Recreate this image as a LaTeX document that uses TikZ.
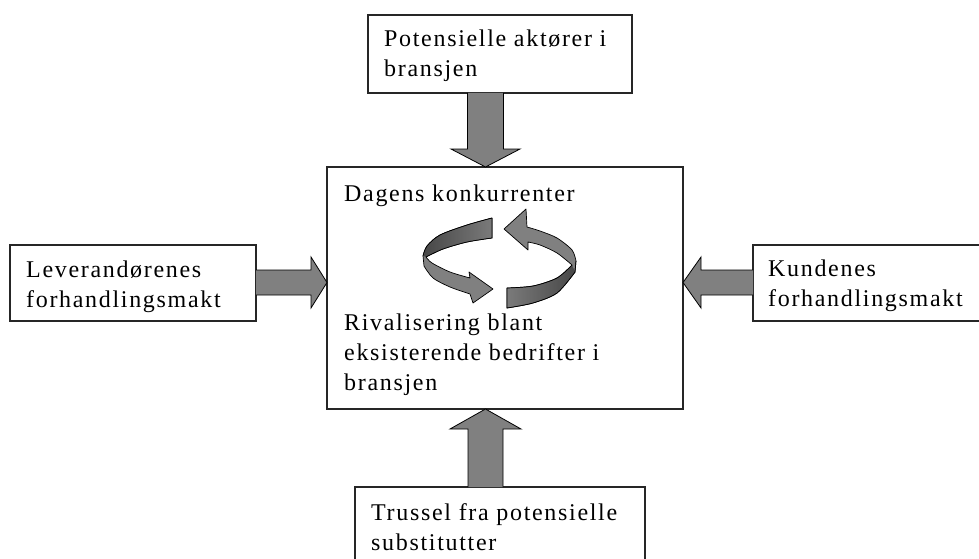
\documentclass[tikz,border=0pt]{standalone}
\usepackage{fontspec}
\setmainfont{Liberation Serif}[LetterSpace=7]
\usetikzlibrary{calc}

\begin{document}
\begin{tikzpicture}[x=1pt,y=-1pt,
  box/.style={draw=black!85, line width=1.3pt, fill=white, inner sep=0pt, outer sep=0pt},
  lbl/.style={anchor=base west, font=\fontsize{24}{30}\selectfont, align=left, inner sep=0pt},
  barrow/.style={draw=black, line width=0.8pt, fill=black!50, line join=miter},
  ribbon/.style={draw=black, line width=0.7pt, fill=black!50, line join=round},
]
\useasboundingbox (0,0) rectangle (979,559);

% boxes
\node[box, minimum width=264, minimum height=78, anchor=north west] (pot) at (368,15) {};
\node[box, minimum width=356, minimum height=242, anchor=north west] (riv) at (327,167) {};
\node[box, minimum width=246, minimum height=76, anchor=north west] (lev) at (10,245) {};
\node[box, minimum width=240, minimum height=76, anchor=north west] (kun) at (753,245) {};
\node[box, minimum width=290, minimum height=90, anchor=north west] (sub) at (355,487) {};

% texts (anchored at the baseline of their last line)
\node[lbl] (potT) at (384,77) {Potensielle aktører i\\bransjen};
\node[lbl] (rivA) at (344,201) {Dagens konkurrenter};
\node[lbl] (rivB) at (344,390) {Rivalisering blant\\eksisterende bedrifter i\\bransjen};
\node[lbl] (levT) at (26,307) {Leverandørenes\\forhandlingsmakt};
\node[lbl] (kunT) at (768,306) {Kundenes\\forhandlingsmakt};
\node[lbl] (subT) at (371,550) {Trussel fra potensielle\\substitutter};

% block arrows between the boxes
\coordinate (vx) at (485.5,0);
\coordinate (hy) at (0,282.5);
\path (vx |- pot.south) coordinate (t0) (vx |- riv.north) coordinate (t1);
\draw[barrow] ($(t0)+(-18,0)$) -- ($(t1)+(-18,-18)$) -- ($(t1)+(-34.5,-18)$) -- (t1)
  -- ($(t1)+(34.5,-18)$) -- ($(t1)+(18,-18)$) -- ($(t0)+(18,0)$);
\path (vx |- sub.north) coordinate (b0) (vx |- riv.south) coordinate (b1);
\draw[barrow] ($(b0)+(-17.5,0)$) -- ($(b1)+(-17.5,20)$) -- ($(b1)+(-35.5,20)$) -- (b1)
  -- ($(b1)+(35.5,20)$) -- ($(b1)+(17.5,20)$) -- ($(b0)+(17.5,0)$);
\path (hy -| lev.east) coordinate (l0) (hy -| riv.west) coordinate (l1);
\draw[barrow] ($(l0)+(0,-12.5)$) -- ($(l1)+(-16,-12.5)$) -- ($(l1)+(-16,-25.5)$) -- (l1)
  -- ($(l1)+(-16,25.5)$) -- ($(l1)+(-16,12.5)$) -- ($(l0)+(0,12.5)$);
\path (hy -| kun.west) coordinate (r0) (hy -| riv.east) coordinate (r1);
\draw[barrow] ($(r0)+(0,-12.5)$) -- ($(r1)+(18,-12.5)$) -- ($(r1)+(18,-25.5)$) -- (r1)
  -- ($(r1)+(18,25.5)$) -- ($(r1)+(18,12.5)$) -- ($(r0)+(0,12.5)$);

% circular arrows: left ribbon
\draw[ribbon] (492,218) -- plot[smooth] coordinates {(492,218) (467,225) (440,235) (427,246) (423,256)}
  -- (424,266) -- plot[smooth] coordinates {(424,266) (433,278) (450,287) (470,294)}
  -- (473,303) -- (493,289) -- (469,272) -- (470,278)
  -- plot[smooth] coordinates {(470,278) (450,272) (432,263) (426,257)}
  -- plot[smooth] coordinates {(426,257) (443,249) (467,242) (492,238)} -- cycle;
\path[left color=black!72, right color=black!52] (492,218.5) -- plot[smooth] coordinates {(492,218.5) (467,225.5) (440,235.5) (427.5,246) (423.6,256)}
  -- plot[smooth] coordinates {(426,257) (443,249) (467,242) (492,237.5)} -- cycle;
\draw[black, line width=0.7pt] plot[smooth] coordinates {(492,218) (467,225) (440,235) (427,246) (423,256)};
\draw[black, line width=0.7pt] plot[smooth] coordinates {(426,257) (443,249) (467,242) (492,238)} -- (492,218);

% circular arrows: right ribbon
\draw[ribbon] (507,288) -- plot[smooth] coordinates {(507,288) (533,286) (557,278) (572,265)}
  -- plot[smooth] coordinates {(572,265) (557,253) (540,245) (528,242)}
  -- (528,250) -- (504,229) -- (526,209) -- (527,227)
  -- plot[smooth] coordinates {(527,227) (540,231) (557,238) (572,250) (576,261)}
  -- (575,272) -- plot[smooth] coordinates {(575,272) (557,293) (533,303) (507,308)} -- cycle;
\path[left color=black!52, right color=black!72] (507,288.5) -- plot[smooth] coordinates {(507,288.5) (533,286.5) (557,278.5) (572,265.5)}
  -- (575.4,272) -- plot[smooth] coordinates {(575.4,272) (557,292.5) (533,302.5) (507,307.5)} -- cycle;
\draw[black, line width=0.7pt] plot[smooth] coordinates {(507,288) (533,286) (557,278) (572,265)};
\draw[black, line width=0.7pt] (576,261) -- (575,272) -- plot[smooth] coordinates {(575,272) (557,293) (533,303) (507,308)} -- (507,288);
\end{tikzpicture}
\end{document}
